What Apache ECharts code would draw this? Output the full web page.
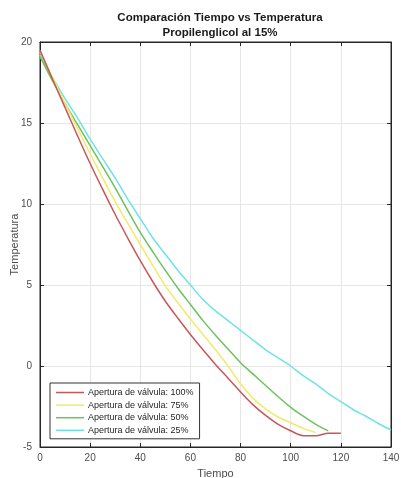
<!DOCTYPE html>
<html><head><meta charset="utf-8">
<script src="https://cdn.jsdelivr.net/npm/echarts@6/dist/echarts.min.js"></script>
<style>html,body{margin:0;padding:0;background:#fff}#c{width:401px;height:478px}</style>
</head><body><div id="c"></div>
<script>
const titleLines = ['Comparación Tiempo vs Temperatura', 'Propilenglicol al 15%'];
const xName = 'Tiempo';
const yName = 'Temperatura';
const seriesNames = ['Apertura de válvula: 100%', 'Apertura de válvula: 75%', 'Apertura de válvula: 50%', 'Apertura de válvula: 25%'];
const xTicks = [0, 20, 40, 60, 80, 100, 120, 140];
const yTicks = [-5, 0, 5, 10, 15, 20];

const t100 = [0,5,10,15,20,25,30,35,40,45,50,55,60,65,70,75,80,85,90,95,100,105,110,115,120];
const v100 = [19.5,17.7,15.95,14.2,12.5,10.9,9.35,7.9,6.5,5.2,4.0,2.95,1.95,1.0,0.1,-0.75,-1.6,-2.4,-3.05,-3.6,-4.0,-4.3,-4.3,-4.15,-4.15];
const t75 = [0,5,10,15,20,25,30,35,40,45,50,55,60,65,70,75,80,85,90,95,100,105,110];
const v75 = [19.4,17.8,16.2,14.65,13.1,11.6,10.15,8.8,7.5,6.2,4.95,3.9,2.9,1.95,1.0,0.0,-1.1,-2.0,-2.65,-3.15,-3.5,-3.85,-4.1];
const t50 = [0,5,10,15,20,25,30,35,40,45,50,55,60,65,70,75,80,85,90,95,100,105,110,115];
const v50 = [19.1,17.6,16.2,14.9,13.6,12.3,11.0,9.6,8.25,7.05,5.9,4.8,3.8,2.8,1.9,1.05,0.2,-0.5,-1.2,-1.9,-2.55,-3.1,-3.6,-4.0];
const t25 = [0,5,10,15,20,25,30,35,40,45,50,55,60,65,70,75,80,85,90,95,100,105,110,115,120,125,130,135,140];
const v25 = [19.2,17.8,16.5,15.3,14.0,12.8,11.6,10.3,9.1,7.9,6.9,5.9,5.0,4.1,3.4,2.8,2.2,1.6,1.0,0.5,0.0,-0.6,-1.1,-1.7,-2.2,-2.7,-3.1,-3.55,-3.95];

const colors = ['#c8575a', '#f2ea6a', '#6cc35c', '#6fe3e3'];
const xs = [t100, t75, t50, t25];
const ys = [v100, v75, v50, v25];

const chart = echarts.init(document.getElementById('c'));
const axisCol = '#262626';
const labCol = '#4d4d4d';
const font = 'Liberation Sans, Arial, sans-serif';

const series = seriesNames.map((n, i) => ({
  name: n, type: 'line', xAxisIndex: 0, yAxisIndex: 0,
  data: xs[i].map((x, j) => [x, ys[i][j]]),
  symbol: 'none', smooth: 0.3, color: colors[i],
  lineStyle: { width: 1.5, color: colors[i] }, z: 5 - i
}));

chart.setOption({
  animation: false,
  backgroundColor: '#fff',
  title: {
    text: titleLines.join('\n'), left: 215, top: 5, textAlign: 'center',
    textStyle: { fontFamily: font, fontSize: 11.5, fontWeight: 'bold', color: '#1a1a1a', lineHeight: 15 }
  },
  grid: { left: 40, right: 10, top: 42, bottom: 31, outerBoundsMode: 'none', containLabel: false, show: true, borderColor: axisCol, borderWidth: 1, backgroundColor: 'transparent' },
  legend: {
    data: seriesNames.map(n => ({ name: n, icon: 'rect' })),
    orient: 'vertical', left: 50, top: 383, width: 149,
    itemWidth: 28, itemHeight: 1.5, itemGap: 3.6, padding: [5, 6, 4, 6],
    borderColor: '#333', borderWidth: 1, backgroundColor: '#fff',
    textStyle: { fontFamily: font, fontSize: 9, color: '#262626', padding: [0, 0, 0, -1] }
  },
  xAxis: [{
    type: 'value', min: 0, max: 140, interval: 20,
    name: xName, nameLocation: 'middle', nameGap: 21, nameMoveOverlap: false,
    nameTextStyle: { fontFamily: font, fontSize: 11, color: labCol },
    axisLine: { show: true, onZero: false, lineStyle: { color: axisCol } },
    axisTick: { show: true, inside: true, length: 4, lineStyle: { color: axisCol } },
    axisLabel: { fontFamily: font, fontSize: 10, color: labCol, margin: 6 },
    splitLine: { show: true, lineStyle: { color: '#e6e6e6', width: 1 } }
  }, {
    type: 'value', min: 0, max: 140, interval: 20, position: 'top',
    axisLine: { show: true, onZero: false, lineStyle: { color: axisCol } },
    axisTick: { show: true, inside: true, length: 4, lineStyle: { color: axisCol } },
    axisLabel: { show: false }, splitLine: { show: false }
  }],
  yAxis: [{
    type: 'value', min: -5, max: 20, interval: 5,
    name: yName, nameLocation: 'middle', nameGap: 20, nameMoveOverlap: false,
    nameTextStyle: { fontFamily: font, fontSize: 11, color: labCol },
    axisLine: { show: true, onZero: false, lineStyle: { color: axisCol } },
    axisTick: { show: true, inside: true, length: 4, lineStyle: { color: axisCol } },
    axisLabel: { fontFamily: font, fontSize: 10, color: labCol, margin: 8 },
    splitLine: { show: true, lineStyle: { color: '#e6e6e6', width: 1 } }
  }, {
    type: 'value', min: -5, max: 20, interval: 5, position: 'right',
    axisLine: { show: true, onZero: false, lineStyle: { color: axisCol } },
    axisTick: { show: true, inside: true, length: 4, lineStyle: { color: axisCol } },
    axisLabel: { show: false }, splitLine: { show: false }
  }],
  series: series
});
</script></body></html>
